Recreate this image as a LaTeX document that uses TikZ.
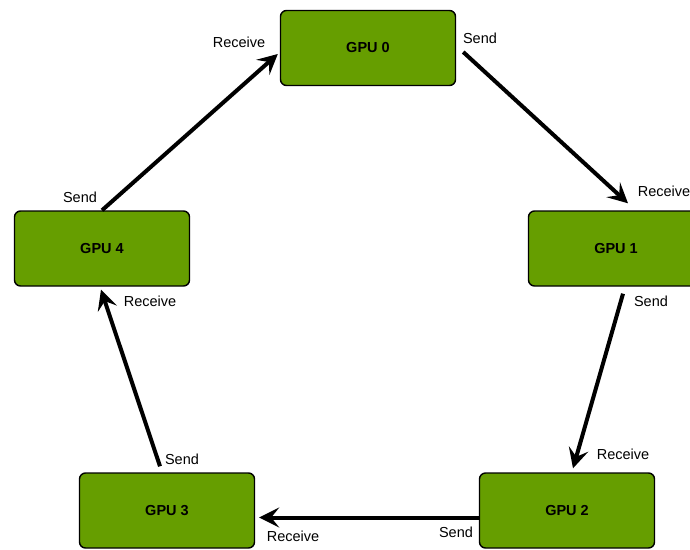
\documentclass[tikz,border=0pt]{standalone}
\usepackage{fontspec}
\setmainfont{Liberation Sans}
\usetikzlibrary{arrows.meta}
\definecolor{gpugreen}{RGB}{102,158,0}
\tikzset {
    gpu/.style = {draw, rounded corners = 6pt, line width = 1.4pt,
        fill = gpugreen, minimum width = 175pt, minimum height = 75pt,
        font = \fontsize{14.5}{17}\selectfont\bfseries},
    tag/.style = {font = \fontsize{14.5}{17}\selectfont, inner sep = 0pt},
    flow/.style = {line width = 4pt,
        arrows = {-Stealth[length = 20pt, width = 20pt, inset = 8pt]}}
}
\begin{document}
\begin{tikzpicture}[x = 1pt, y = -1pt]
    \useasboundingbox (0, 0) rectangle (690, 549);
    % the five gpus
    \node (g0) [gpu] at (368, 48) {GPU 0};
    \node (g1) [gpu] at (616, 248.5) {GPU 1};
    \node (g2) [gpu] at (567, 510.5) {GPU 2};
    \node (g3) [gpu] at (167, 510.5) {GPU 3};
    \node (g4) [gpu] at (102, 248.5) {GPU 4};
    % ring
    \draw [flow] ([shift = {(7, 4)}]g0.east) -- ([shift = {(12, -7)}]g1.north);
    \draw [flow] ([shift = {(7, 7)}]g1.south) -- ([shift = {(6, -4)}]g2.north);
    \draw [flow] ([shift = {(0, 7)}]g2.west) -- ([shift = {(4, 7)}]g3.east);
    \draw [flow] ([shift = {(-7, -6)}]g3.north) -- ([shift = {(-1, 3)}]g4.south);
    \draw [flow] (g4.north) -- ([shift = {(-2, 6)}]g0.west);
    % labels
    \node (r0) [tag] at (239, 42) {Receive};
    \node (s0) [tag] at (480, 38) {Send};
    \node (r1) [tag] at (664, 191) {Receive};
    \node (s1) [tag] at (651, 301) {Send};
    \node (r2) [tag] at (623, 454) {Receive};
    \node (s2) [tag] at (456, 532) {Send};
    \node (r3) [tag] at (293, 536) {Receive};
    \node (s3) [tag] at (182, 459) {Send};
    \node (r4) [tag] at (150, 301) {Receive};
    \node (s4) [tag] at (80, 197) {Send};
\end{tikzpicture}
\end{document}
